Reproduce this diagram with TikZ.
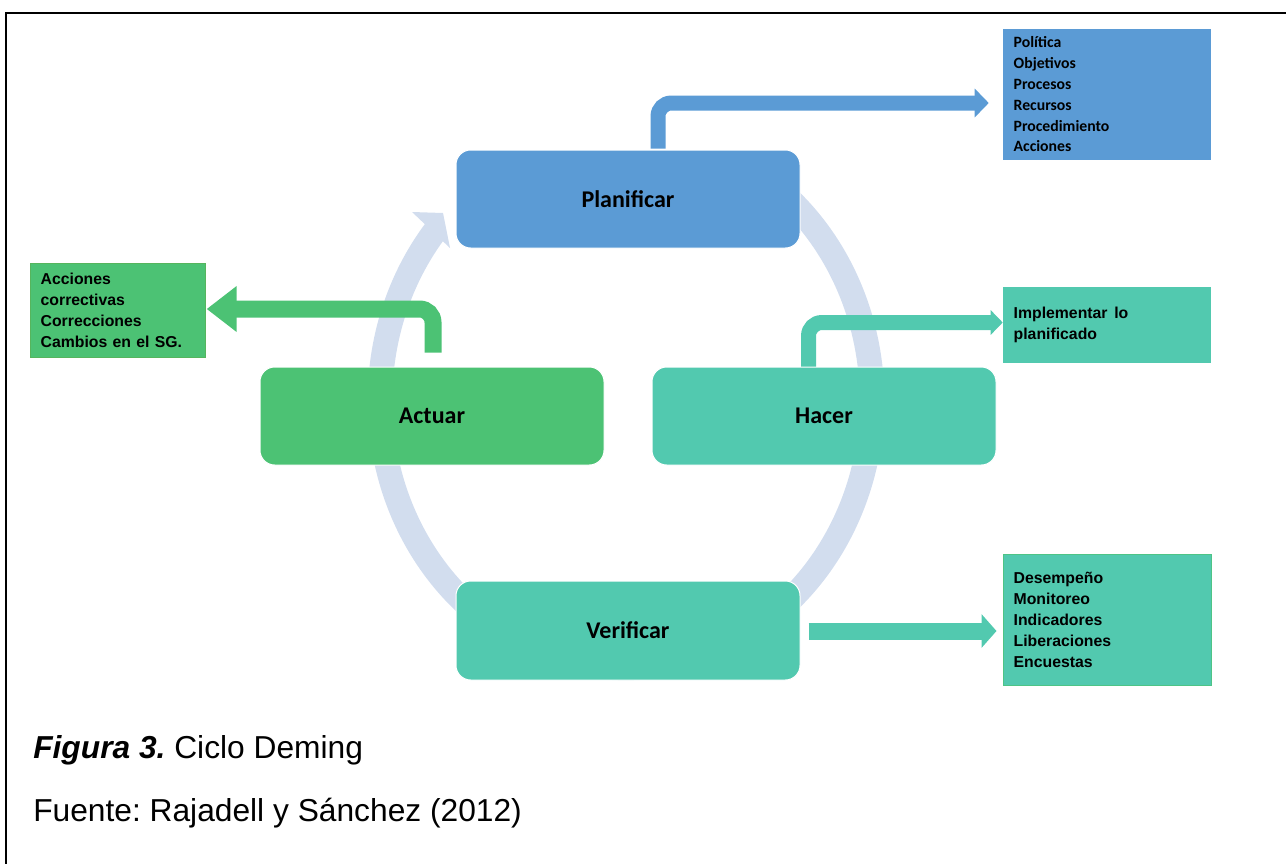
\documentclass[tikz,border=0pt]{standalone}
\usepackage{fontspec}
\setmainfont{Liberation Sans}
\newfontfamily\calfont{Carlito}
\usetikzlibrary{arrows.meta,calc}
\definecolor{pblue}{HTML}{5B9BD5}
\definecolor{pteal}{HTML}{52C9AF}
\definecolor{pgreen}{HTML}{4CC274}
\definecolor{pring}{HTML}{D2DDEE}
\frenchspacing
\begin{document}
\begin{tikzpicture}[x=0.75pt,y=-0.75pt,
  stage/.style={rectangle, rounded corners=11pt, draw=white, line width=0.75pt,
    minimum width=258pt, minimum height=73.5pt,
    font=\calfont\bfseries\fontsize{18pt}{22pt}\selectfont, text=black},
  info/.style={rectangle, inner xsep=8pt, inner ysep=0pt, align=left, text width=140pt,
    font=\bfseries\fontsize{11.85pt}{15.75pt}\selectfont, text=black},
  conn/.style={line width=11.25pt, rounded corners=10pt},
  ringband/.style={draw=pring, line width=18.5pt},
  captxt/.style={anchor=base west, inner sep=0pt, font=\fontsize{23.8pt}{28pt}\selectfont}
]
\useasboundingbox (0,0) rectangle (1286,864);
% frame
\draw[line width=1.5pt] (6,864) -- (6,13) -- (1286,13);

% cycle ring
\draw[ringband] (626,400) ++(-63:246 and 268) arc[start angle=-63, end angle=219.5, x radius=246, y radius=268];
\fill[pring] (412,212) -- (443,213) -- (450,248) -- cycle;

% stages
\node[stage, fill=pblue] (plan) at (628,199) {Planificar};
\node[stage, fill=pteal] (hac) at (824,416) {Hacer};
\node[stage, fill=pgreen] (act) at (432,416) {Actuar};
\node[stage, fill=pteal, minimum height=74.25pt] (ver) at (628,630.5) {Verificar};

% info boxes
\node[info, fill=pblue, minimum height=98.25pt, font=\calfont\bfseries\fontsize{11.8pt}{15.6pt}\selectfont] (planbox) at (1107,94.5)
  {Política\\Objetivos\\Procesos\\Recursos\\Procedimiento\\Acciones};
\node[info, fill=pteal, minimum height=57pt] (hacbox) at (1107,325)
  {Implementar\hspace{5pt}lo\\planificado};
\node[info, fill=pteal, draw=pgreen!70!pteal, line width=0.75pt, minimum height=98.25pt] (verbox) at (1107,619.5)
  {Desempeño\\Monitoreo\\Indicadores\\Liberaciones\\Encuestas};
\node[info, fill=pgreen, draw=pgreen!80!olive, line width=0.5pt, text width=116pt, inner xsep=7.5pt, minimum height=70.5pt] (actbox) at (118,310)
  {Acciones\\correctivas\\Correcciones\\Cambios en el SG.};

% connectors
\draw[conn, pblue, -{Triangle[length=10.5pt,width=21pt]}]
  ($(plan.north)+(30,-1)$) |- ($(planbox.west)+(-14,8.5)$);
\draw[conn, pteal, -{Triangle[length=9pt,width=18pt]}]
  ($(hac.north)+(-15.5,0)$) |- ($(hacbox.west)+(0,-2.5)$);
\draw[conn, pgreen, line width=12.75pt, -{Triangle[length=22.5pt,width=33pt]}]
  ($(act.north)+(1,-14)$) |- ($(actbox.east)+(1,-1)$);
\draw[pteal, line width=12.75pt, -{Triangle[length=11.25pt,width=24.75pt]}]
  ($(ver.east)+(8,0.5)$) -- ($(verbox.west)+(-6,11.5)$);

% caption
\node[captxt] (cap) at (33,758) {\textbf{\textit{Figura 3.}} Ciclo Deming};
\node[captxt] (src) at (33,821) {Fuente: Rajadell y Sánchez (2012)};
\end{tikzpicture}
\end{document}
